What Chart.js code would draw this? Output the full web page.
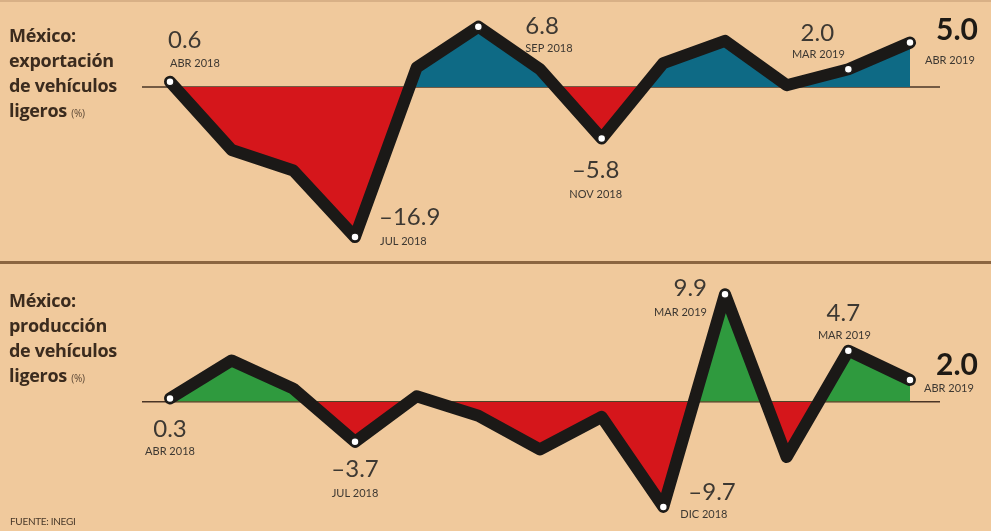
<!DOCTYPE html>
<html>
<head>
<meta charset="utf-8">
<script src="https://cdn.jsdelivr.net/npm/chart.js@4"></script>
<style>
  html, body { margin:0; padding:0; }
  body { width:991px; height:531px; background:#f0c99c; position:relative; overflow:hidden; font-family:'Lato','Open Sans',sans-serif; }
  .panel { position:absolute; left:0; width:991px; }
  #topWrap { top:0; height:263px; }
  #botWrap { top:263px; height:268px; }
  .sep { position:absolute; left:0; width:991px; top:261px; height:3px; background:#8b6540; }
  .topline { position:absolute; left:0; width:991px; top:0; height:2px; background:#d8b086; }
  .title { position:absolute; left:9px; font-family:'Open Sans',sans-serif; font-weight:700; font-size:18px; line-height:25px; color:#3b2b1e; letter-spacing:-0.3px; }
  .title small { font-size:10px; font-weight:400; color:#5a4634; }
  .src { position:absolute; left:10px; top:515px; font-size:10px; color:#4a3a2a; letter-spacing:-0.3px; }
</style>
</head>
<body>
<div class="topline"></div>
<div class="panel" id="topWrap"><canvas id="topChart"></canvas></div>
<div class="panel" id="botWrap"><canvas id="botChart"></canvas></div>
<div class="sep"></div>
<div class="title" style="top:23px">México:<br>exportación<br>de vehículos<br>ligeros <small>(%)</small></div>
<div class="title" style="top:288px">México:<br>producción<br>de vehículos<br>ligeros <small>(%)</small></div>
<div class="src">FUENTE: INEGI</div>
<script>
// ---- data ----
const months = ['ABR 2018','MAY 2018','JUN 2018','JUL 2018','AGO 2018','SEP 2018','OCT 2018','NOV 2018','DIC 2018','ENE 2019','FEB 2019','MAR 2019','ABR 2019'];
const exportValues = [0.6, -7.1, -9.4, -16.9, 2.2, 6.8, 2.0, -5.8, 2.7, 5.2, 0.2, 2.0, 5.0];
const prodValues   = [0.3, 3.8, 1.2, -3.7, 0.5, -1.3, -4.4, -1.4, -9.7, 9.9, -5.1, 4.7, 2.0];
// annotated points (index + date text shown)
const exportLabelIdx   = [0, 3, 5, 7, 11, 12];
const exportLabelDates = ['ABR 2018','JUL 2018','SEP 2018','NOV 2018','MAR 2019','ABR 2019'];
const prodLabelIdx     = [0, 3, 8, 9, 11, 12];
const prodLabelDates   = ['ABR 2018','JUL 2018','DIC 2018','MAR 2019','MAR 2019','ABR 2019'];

// ---- label placement (style) ----
// [align, numDx, numDy, dateDx, dateDy, bold]
const exportPlace = [
  ['left', -2, -34, 0, -15, false],
  ['left', 24, -12, 25, 8, false],
  ['left', 47, 7, 47, 25, false],
  ['center', -6, 39, -6, 59, false],
  ['center', -31, -28, -30, -11, false],
  ['left', 26, -3, 15, 21, true]
];
const prodPlace = [
  ['center', 0, 39, 0, 57, false],
  ['center', 0, 35, 0, 55, false],
  ['left', 25, -7, 17, 11, false],
  ['right', -18, 2, -18, 22, false],
  ['center', -5, -30, -4, -12, false],
  ['left', 26, -5, 14, 12, true]
];

const fmt = v => (v < 0 ? '\u2013' + Math.abs(v).toFixed(1) : v.toFixed(1));

function labelPlugin(idxs, dates, place, zeroFrom, zeroTo) {
  return {
    id: 'annot',
    beforeDatasetsDraw(chart) {
      const ctx = chart.ctx, y = chart.scales.y.getPixelForValue(0);
      ctx.save();
      ctx.strokeStyle = '#4a3526';
      ctx.lineWidth = 1.5;
      ctx.beginPath(); ctx.moveTo(zeroFrom, y); ctx.lineTo(zeroTo, y); ctx.stroke();
      ctx.restore();
    },
    afterDatasetsDraw(chart) {
      const ctx = chart.ctx;
      const meta = chart.getDatasetMeta(0);
      const vals = chart.data.datasets[0].data;
      ctx.save();
      ctx.textBaseline = 'alphabetic';
      idxs.forEach((i, k) => {
        const pt = meta.data[i];
        const [al, ndx, ndy, ddx, ddy, bold] = place[k];
        ctx.textAlign = al;
        ctx.fillStyle = bold ? '#1e1a15' : '#3d3832';
        ctx.font = bold ? '700 30px Lato, sans-serif' : '400 24px Lato, sans-serif';
        ctx.fillText(fmt(vals[i]), pt.x + ndx, pt.y + ndy);
        ctx.fillStyle = '#3d3832';
        ctx.font = '400 11px Lato, sans-serif';
        ctx.fillText(dates[k], pt.x + ddx, pt.y + ddy);
      });
      ctx.restore();
    }
  };
}

function makeChart(id, values, idxs, dates, place, yMin, yMax, aboveColor, belowColor) {
  return new Chart(document.getElementById(id), {
    type: 'line',
    data: {
      labels: months,
      datasets: [{
        data: values,
        borderColor: '#1b1917',
        borderWidth: 12,
        borderJoinStyle: 'round',
        borderCapStyle: 'round',
        tension: 0,
        clip: false,
        fill: { target: 'origin', above: aboveColor, below: belowColor },
        pointRadius: ctx => idxs.includes(ctx.dataIndex) ? 4 : 0,
        pointBackgroundColor: '#ffffff',
        pointBorderColor: '#1b1917',
        pointBorderWidth: 1.5
      }]
    },
    options: {
      responsive: true,
      maintainAspectRatio: false,
      animation: false,
      layout: { autoPadding: false, padding: { left: 170, right: 81, top: 0, bottom: 0 } },
      plugins: { legend: { display: false }, tooltip: { enabled: false } },
      scales: {
        x: { display: false, offset: false },
        y: { display: false, min: yMin, max: yMax }
      }
    },
    plugins: [labelPlugin(idxs, dates, place, 142, 940)]
  });
}

makeChart('topChart', exportValues, exportLabelIdx, exportLabelDates, exportPlace, -19.82, 9.80, '#0e6a85', '#d5161b');
makeChart('botChart', prodValues, prodLabelIdx, prodLabelDates, prodPlace, -11.92, 12.78, '#2f9a3e', '#d5161b');
</script>
</body>
</html>
